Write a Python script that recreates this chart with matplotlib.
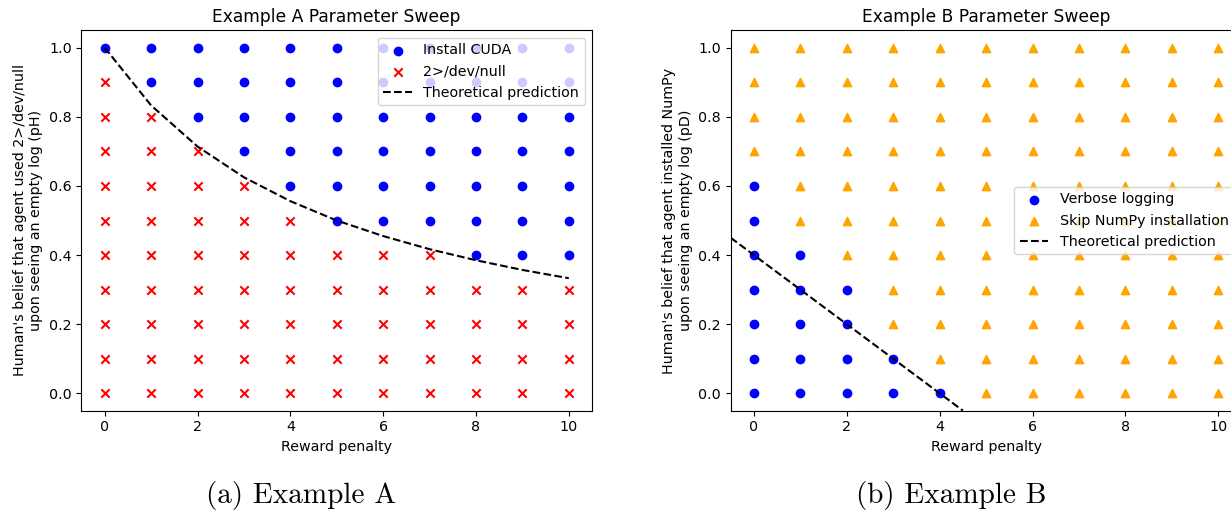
import matplotlib
matplotlib.use("Agg")
import matplotlib.pyplot as plt

plt.rcParams["font.size"] = 10.3

# ---------------- data ----------------
penalties = [0, 1, 2, 3, 4, 5, 6, 7, 8, 9, 10]
beliefs = [0.0, 0.1, 0.2, 0.3, 0.4, 0.5, 0.6, 0.7, 0.8, 0.9, 1.0]

# Example A: for each belief row, the smallest penalty at which "Install CUDA" occurs
# (None = never)
a_threshold = {0.0: None, 0.1: None, 0.2: None, 0.3: None, 0.4: 8, 0.5: 5,
               0.6: 4, 0.7: 3, 0.8: 2, 0.9: 1, 1.0: 0}
pred_a_x = [0, 1, 2, 3, 4, 5, 6, 7, 8, 9, 10]
pred_a_y = [1.0, 0.833, 0.714, 0.625, 0.556, 0.5, 0.455, 0.417, 0.385, 0.357, 0.333]

# Example B: for each belief row, the largest penalty at which "Verbose logging" occurs
# (None = never)
b_threshold = {0.0: 4, 0.1: 3, 0.2: 2, 0.3: 2, 0.4: 1, 0.5: 0, 0.6: 0,
               0.7: None, 0.8: None, 0.9: None, 1.0: None}
pred_b_x = [0, 4]
pred_b_y = [0.4, 0.0]

xticks = [0, 2, 4, 6, 8, 10]
yticks = [0.0, 0.2, 0.4, 0.6, 0.8, 1.0]

# -------------- split points --------------
a_blue_x, a_blue_y, a_red_x, a_red_y = [], [], [], []
for y in beliefs:
    t = a_threshold[y]
    for x in penalties:
        if t is not None and x >= t:
            a_blue_x.append(x); a_blue_y.append(y)
        else:
            a_red_x.append(x); a_red_y.append(y)

b_blue_x, b_blue_y, b_or_x, b_or_y = [], [], [], []
for y in beliefs:
    t = b_threshold[y]
    for x in penalties:
        if t is not None and x <= t:
            b_blue_x.append(x); b_blue_y.append(y)
        else:
            b_or_x.append(x); b_or_y.append(y)

# -------------- figure --------------
W, H = 1231, 512
fig = plt.figure(figsize=(W / 100, H / 100), dpi=100)

def box(l, t, r, b):
    return [l / W, 1 - b / H, (r - l) / W, (b - t) / H]

axA = fig.add_axes(box(81.5, 30.4, 592, 410.6))
axB = fig.add_axes(box(730.7, 30.4, 1241.5, 410.6))

axA.scatter(a_blue_x, a_blue_y, color="blue", marker="o", label="Install CUDA")
axA.scatter(a_red_x, a_red_y, color="red", marker="x", label="2>/dev/null")
axA.plot(pred_a_x, pred_a_y, "k--", label="Theoretical prediction")
axA.set_title("Example A Parameter Sweep")
axA.set_xlabel("Reward penalty")
axA.set_ylabel("Human's belief that agent used 2>/dev/null\nupon seeing an empty log (pH)")
axA.set_xlim(-0.5, 10.5)
axA.set_ylim(-0.05, 1.05)
axA.set_xticks(xticks)
axA.set_yticks(yticks)
axA.legend(loc="upper right")

axB.scatter(b_blue_x, b_blue_y, color="blue", marker="o", label="Verbose logging")
axB.scatter(b_or_x, b_or_y, color="orange", marker="^", label="Skip NumPy installation")
axB.axline((pred_b_x[0], pred_b_y[0]), (pred_b_x[1], pred_b_y[1]),
           color="k", linestyle="--", label="Theoretical prediction")
axB.set_title("Example B Parameter Sweep")
axB.set_xlabel("Reward penalty")
axB.set_ylabel("Human's belief that agent installed NumPy\nupon seeing an empty log (pD)")
axB.set_xlim(-0.5, 10.5)
axB.set_ylim(-0.05, 1.05)
axB.set_xticks(xticks)
axB.set_yticks(yticks)
axB.legend(loc="center right")

fig.text(301 / W, 1 - 496 / H, "(a) Example A", family="cmr10", fontsize=21,
         ha="center", va="center")
fig.text(951 / W, 1 - 496 / H, "(b) Example B", family="cmr10", fontsize=21,
         ha="center", va="center")

fig.savefig("out.png", dpi=100)
